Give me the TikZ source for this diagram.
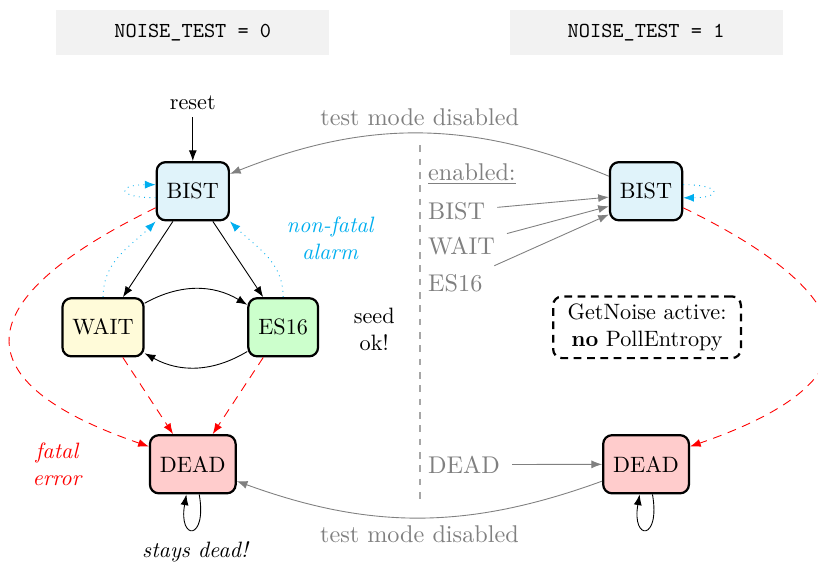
\documentclass[tikz,border=0pt]{standalone}
\usetikzlibrary{arrows.meta}
\definecolor{alarmblue}{RGB}{0,174,239}
\definecolor{bistfill}{RGB}{224,243,250}
\definecolor{waitfill}{RGB}{255,251,217}
\newcommand{\lblsize}{\fontsize{10.9}{13}\selectfont}
\begin{document}
\begin{tikzpicture}[>={Latex},
  state/.style={draw,line width=1pt,rounded corners=4pt,minimum height=.92cm,inner xsep=4.5pt},
  hdr/.style={fill=gray!10,minimum width=4.32cm,minimum height=.71cm,
    font=\ttfamily\fontsize{9.6}{11}\selectfont},
  lbl/.style={text=gray,anchor=base west,font=\lblsize},
  fatal/.style={->,red,dash pattern=on 4pt off 3pt},
  alarm/.style={->,alarmblue,dotted},
  tmode/.style={->,gray}]
\useasboundingbox (0,0) rectangle (12.94,8.91);
\node[hdr] (hdr0) at (3.05,8.39) {NOISE\_TEST = 0};
\node[hdr] (hdr1) at (10.22,8.39) {NOISE\_TEST = 1};
\node (reset) at (3.05,7.29) {reset};
\node[state,fill=bistfill] (bistL) at (3.05,5.885) {BIST};
\node[state,fill=waitfill] (waitL) at (1.63,3.733) {WAIT};
\node[state,fill=green!20] (es16L) at (4.48,3.733) {ES16};
\node[state,fill=red!20] (deadL) at (3.05,1.566) {DEAD};
\node[state,fill=bistfill] (bistR) at (10.22,5.885) {BIST};
\node[state,fill=red!20] (deadR) at (10.22,1.566) {DEAD};
\node[draw,line width=1pt,dash pattern=on 3.5pt off 2.5pt,rounded corners=4pt,
  align=center,minimum width=2.97cm]
  (info) at (10.235,3.733) {GetNoise active:\\\textbf{no} PollEntropy};
\node[align=center] (seed) at (5.92,3.70) {seed\\ok!};
\node[alarmblue,font=\itshape,align=center] (nfa) at (5.22,5.14) {non-fatal\\alarm};
\node[red,font=\itshape,align=center] (ferr) at (.90,1.566) {fatal\\error};
\node[font=\itshape] (sdead) at (3.085,.174) {stays dead!};
\draw[gray!70,dashed,semithick] (6.644,6.61) -- (6.644,.92);
\node[lbl] (lblen) at (6.65,6.06) {\underline{enabled:}};
\node[lbl] (lblbist) at (6.65,5.44) {BIST};
\node[lbl] (lblwait) at (6.65,4.89) {WAIT};
\node[lbl] (lbles) at (6.65,4.30) {ES16};
\node[lbl] (lbldead) at (6.65,1.424) {DEAD};
\draw[->] (reset) -- (bistL);
\draw[->] (bistL) -- (waitL);
\draw[->] (bistL) -- (es16L);
\draw[->] (waitL.30) to[bend left=30] (es16L.148);
\draw[->] (es16L.214) to[bend left=30] (waitL.-32);
\draw[alarm] (waitL.north) to[out=90,in=225] (bistL.south west);
\draw[alarm] (es16L.north) to[out=90,in=-45] (bistL.south east);
\draw[alarm] (bistL.190) .. controls +(180:.62) and +(180:.62) .. (bistL.170);
\draw[fatal] (bistL.204) .. controls +(206:3.4) and +(161:3.1) .. (deadL.158);
\draw[fatal] (waitL) -- (deadL);
\draw[fatal] (es16L) -- (deadL);
\draw[->] (deadL.-78) .. controls +(-80:.75) and +(-100:.75) .. (deadL.-102);
\draw[alarm] (bistR.10) .. controls +(0:.62) and +(0:.62) .. (bistR.-10);
\draw[fatal] (bistR.-24) .. controls +(-26:3.4) and +(19:3.1) .. (deadR.22);
\draw[->] (deadR.-78) .. controls +(-80:.75) and +(-100:.75) .. (deadR.-102);
\draw[tmode,shorten <=2pt] (lblbist) -- (bistR.189);
\draw[tmode,shorten <=2pt] (lblwait) -- (bistR.202);
\draw[tmode,shorten <=2pt] (lbles) -- (bistR.212);
\draw[tmode,shorten <=2pt] (lbldead) -- (deadR);
\draw[tmode] (bistR.158) to[bend right=22] node[above,font=\lblsize] {test mode disabled} (bistL.25);
\draw[tmode] (deadR.201) to[bend left=20] node[below,font=\lblsize] {test mode disabled} (deadL.-21);
\end{tikzpicture}
\end{document}
